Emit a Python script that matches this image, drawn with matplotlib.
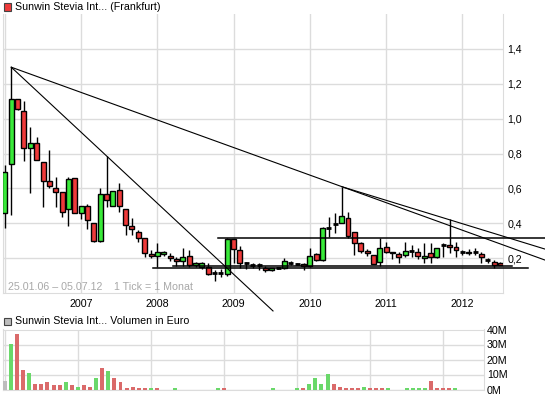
import matplotlib
matplotlib.use("Agg")
import matplotlib.pyplot as plt
from matplotlib.patches import Rectangle

W, H = 545, 398
plt.rcParams['font.family'] = ['Liberation Sans', 'DejaVu Sans']

# monthly candles, index 0 = Jan 2006 ... 78 = Jul 2012
opens = [0.457, 0.738, 1.111, 1.044, 0.830, 0.859, 0.750, 0.643, 0.601, 0.578,
         0.480, 0.660, 0.457, 0.499, 0.400, 0.300, 0.566, 0.501, 0.591, 0.480,
         0.383, 0.348, 0.314, 0.222, 0.212, 0.222, 0.214, 0.195, 0.182, 0.214,
         0.159, 0.147, 0.151, 0.113, 0.113, 0.107, 0.310, 0.245, 0.174, 0.162,
         0.162, 0.145, 0.132, 0.142, 0.145, 0.174, 0.168, 0.165, 0.155, 0.224,
         0.188, 0.375, 0.394, 0.400, 0.429, 0.348, 0.285, 0.241, 0.220, 0.178,
         0.266, 0.237, 0.222, 0.218, 0.243, 0.233, 0.199, 0.228, 0.205, 0.275,
         0.275, 0.262, 0.233, 0.237, 0.233, 0.222, 0.189, 0.176, 0.174]
highs = [0.734, 1.295, 1.115, 1.103, 0.954, 0.893, 0.750, 0.820, 0.667, 0.580,
         0.667, 0.660, 0.499, 0.511, 0.400, 0.600, 0.786, 0.585, 0.629, 0.480,
         0.429, 0.361, 0.314, 0.247, 0.285, 0.240, 0.228, 0.208, 0.256, 0.247,
         0.175, 0.175, 0.170, 0.132, 0.136, 0.314, 0.310, 0.271, 0.180, 0.174,
         0.170, 0.153, 0.145, 0.150, 0.199, 0.184, 0.174, 0.170, 0.260, 0.231,
         0.380, 0.438, 0.457, 0.610, 0.467, 0.350, 0.294, 0.251, 0.220, 0.314,
         0.291, 0.237, 0.237, 0.291, 0.275, 0.256, 0.285, 0.285, 0.260, 0.285,
         0.423, 0.294, 0.246, 0.252, 0.256, 0.233, 0.199, 0.189, 0.180]
lows = [0.371, 0.447, 1.050, 0.759, 0.575, 0.760, 0.492, 0.601, 0.495, 0.438,
        0.386, 0.457, 0.425, 0.367, 0.290, 0.294, 0.492, 0.501, 0.463, 0.333,
        0.333, 0.294, 0.205, 0.199, 0.147, 0.210, 0.184, 0.155, 0.155, 0.151,
        0.151, 0.140, 0.105, 0.069, 0.094, 0.100, 0.174, 0.143, 0.140, 0.142,
        0.130, 0.122, 0.128, 0.136, 0.138, 0.161, 0.161, 0.132, 0.150, 0.185,
        0.185, 0.323, 0.343, 0.400, 0.314, 0.218, 0.228, 0.212, 0.165, 0.155,
        0.228, 0.193, 0.170, 0.208, 0.208, 0.193, 0.174, 0.174, 0.200, 0.208,
        0.228, 0.208, 0.218, 0.218, 0.218, 0.174, 0.170, 0.145, 0.160]
closes = [0.692, 1.111, 1.056, 0.830, 0.859, 0.763, 0.641, 0.612, 0.578, 0.466,
          0.654, 0.457, 0.499, 0.419, 0.300, 0.566, 0.534, 0.585, 0.501, 0.388,
          0.365, 0.314, 0.228, 0.212, 0.233, 0.233, 0.199, 0.184, 0.205, 0.159,
          0.170, 0.170, 0.107, 0.113, 0.113, 0.310, 0.252, 0.170, 0.174, 0.162,
          0.162, 0.134, 0.142, 0.142, 0.184, 0.174, 0.168, 0.153, 0.211, 0.188,
          0.371, 0.375, 0.394, 0.442, 0.329, 0.285, 0.243, 0.228, 0.165, 0.256,
          0.233, 0.228, 0.208, 0.243, 0.243, 0.212, 0.214, 0.208, 0.256, 0.275,
          0.266, 0.247, 0.233, 0.231, 0.233, 0.208, 0.189, 0.161, 0.161]

# volume in million euro, and colour direction (1 up, -1 down, 0 first bar)
volume_m = [5.4, 30.2, 36.9, 12.7, 10.7, 4.0, 4.0, 4.7, 2.7, 2.7,
            4.7, 2.7, 2.0, 2.7, 2.0, 7.4, 14.1, 12.1, 7.4, 4.7,
            1.3, 2.0, 1.3, 0.7, 1.3, 0.7, 0.0, 0.0, 0.7, 0.0,
            0.0, 0.0, 0.0, 0.0, 0.0, 1.3, 0.7, 0.0, 0.0, 0.0,
            0.0, 0.0, 0.0, 0.0, 0.7, 0.0, 0.0, 0.0, 1.3, 0.7,
            4.0, 8.0, 3.4, 10.1, 4.0, 2.0, 0.7, 0.7, 0.7, 2.0,
            0.7, 0.7, 0.7, 0.7, 0.0, 0.0, 0.7, 0.7, 0.7, 0.7,
            6.0, 0.7, 0.7, 0.7, 0.7, 0.0, 0.0, 0.0, 0.0]
volume_dir = [0, 1, -1, -1, 1, -1, -1, -1, -1, -1,
              1, -1, 1, -1, -1, 1, -1, 1, -1, -1,
              -1, -1, -1, -1, 1, -1, -1, -1, 1, -1,
              -1, 1, -1, -1, -1, 1, -1, -1, -1, -1,
              -1, -1, 1, -1, 1, -1, -1, -1, 1, -1,
              1, 1, 1, 1, -1, -1, -1, -1, -1, 1,
              -1, -1, -1, 1, 1, -1, 1, 1, 1, 1,
              -1, -1, -1, -1, 1, -1, -1, -1, -1]

# trend lines drawn on the chart: (month, price) start and end
trend_lines = [((1, 1.295), (42.2, -0.103)),
               ((1, 1.295), (85.0, 0.189)),
               ((53, 0.610), (85.0, 0.252))]
# horizontal support / resistance lines: price, from month, to month
levels = [(0.314, 33.6, 85.0),
          (0.155, 26.5, 79.8),
          (0.142, 23.3, 82.4)]

year_months = [12, 24, 36, 48, 60, 72]
year_labels = ['2007', '2008', '2009', '2010', '2011', '2012']
price_ticks = [0.2, 0.4, 0.6, 0.8, 1.0, 1.2, 1.4]
price_labels = ['0,2', '0,4', '0,6', '0,8', '1,0', '1,2', '1,4']
vol_ticks = [0, 10, 20, 30, 40]
vol_labels = ['0M', '10M', '20M', '30M', '40M']

GREEN = '#3aea3a'
RED = '#ee3a3a'
VGREEN = '#6ad86a'
VRED = '#da6a6a'
VGRAY = '#bdbdbd'
GRID = '#dcdcdc'
FS = 7.7


def fx(px):
    return px / W


def fy(py):
    return 1 - py / H


fig = plt.figure(figsize=(W / 100, H / 100), dpi=100)

# -----------------------------
# price panel
# -----------------------------
ax = fig.add_axes([fx(3), fy(293), fx(503) - fx(3), fy(14) - fy(293)])
ax.set_xlim(-0.3, 78.4)
ax.set_ylim(0, 1.6)

bw = 0.78
for i in range(len(opens)):
    o, h, l, c = opens[i], highs[i], lows[i], closes[i]
    ax.vlines(i, l, h, color='black', lw=1, zorder=3)
    if c == o:
        ax.hlines(o, i - bw / 2, i + bw / 2, color='black', lw=2, zorder=4)
    else:
        col = GREEN if c > o else RED
        ax.bar(i, c - o, bottom=o, width=bw, color=col, edgecolor='black',
               lw=1, zorder=4)

for (x0, y0), (x1, y1) in trend_lines:
    ax.plot([x0, x1], [y0, y1], color='black', lw=0.8, zorder=5,
            clip_on=False)
for p, m0, m1 in levels:
    ax.plot([m0, m1], [p, p], color='black', lw=1.1, zorder=5, clip_on=False)

ax.set_xticks([0] + year_months, [''] + year_labels)
ax.set_yticks(price_ticks, price_labels)
ax.yaxis.tick_right()
ax.tick_params(length=0, labelsize=FS, pad=3)
ax.tick_params(axis='x', pad=4)
ax.grid(True, color=GRID, lw=1, zorder=0)
ax.set_axisbelow(True)
for side in ['left', 'right', 'bottom']:
    ax.spines[side].set_color(GRID)
ax.spines['top'].set_visible(False)

fig.text(fx(8), fy(286.5), '25.01.06 \u2013 05.07.12', color='#a8a8a8',
         fontsize=FS, va='center')
fig.text(fx(114), fy(286.5), '1 Tick = 1 Monat', color='#a8a8a8',
         fontsize=FS, va='center')

fig.patches.append(Rectangle((fx(3.5), fy(10.5)), 7 / W, 7 / H,
                             transform=fig.transFigure, facecolor=RED,
                             edgecolor='#444444', lw=0.8))
fig.text(fx(15), fy(6.5), 'Sunwin Stevia Int... (Frankfurt)', fontsize=FS,
         va='center')

# -----------------------------
# volume panel
# -----------------------------
vax = fig.add_axes([fx(3), fy(389.5), fx(484) - fx(3), fy(329.5) - fy(389.5)])
vax.set_xlim(-0.3, 78.7)
vax.set_ylim(0, 40)
vcols = [VGRAY if d == 0 else (VGREEN if d > 0 else VRED) for d in volume_dir]
vax.bar(range(len(volume_m)), volume_m, width=0.65, color=vcols, zorder=3)
vax.set_xticks([0] + year_months, [''] * 7)
vax.set_yticks(vol_ticks, vol_labels)
vax.yaxis.tick_right()
vax.tick_params(length=0, labelsize=FS, pad=2)
vax.grid(True, color=GRID, lw=1, zorder=0)
vax.set_axisbelow(True)
for side in vax.spines:
    vax.spines[side].set_color(GRID)

fig.patches.append(Rectangle((fx(3.5), fy(324.5)), 7 / W, 7 / H,
                             transform=fig.transFigure, facecolor=VGRAY,
                             edgecolor='#444444', lw=0.8))
fig.text(fx(15), fy(321), 'Sunwin Stevia Int... Volumen in Euro',
         fontsize=FS, va='center')

fig.savefig('out.png', dpi=100)
